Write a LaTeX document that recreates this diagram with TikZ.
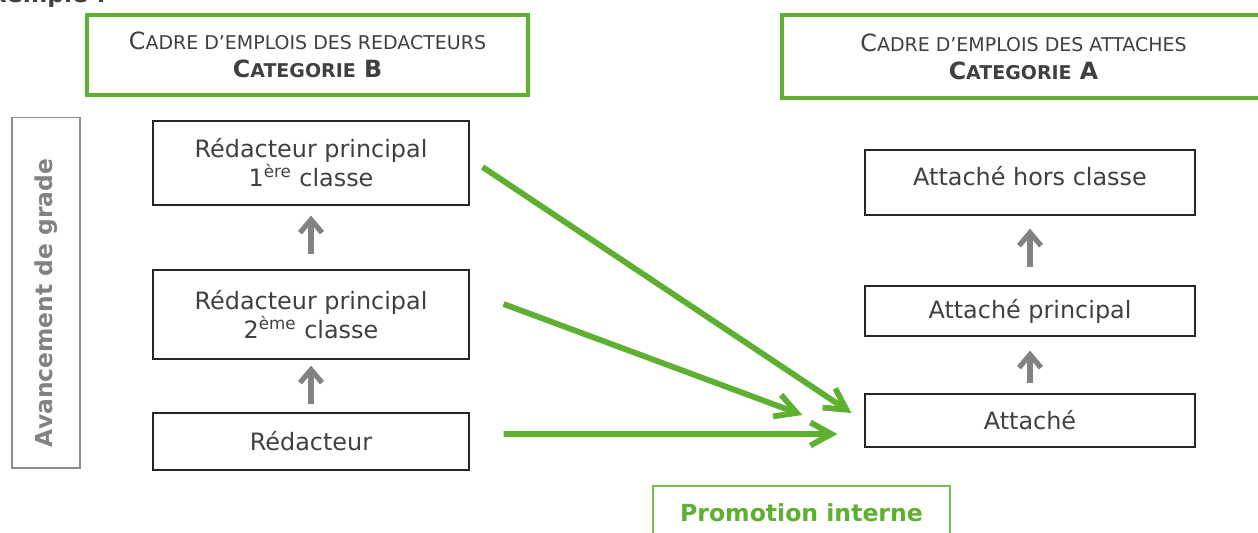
\documentclass[tikz,border=0pt]{standalone}
\usepackage{fontspec}
\setmainfont{DejaVu Sans}
\usetikzlibrary{arrows.meta}
\definecolor{vert}{RGB}{94,176,49}
\definecolor{gristexte}{RGB}{64,64,64}
\definecolor{grisfleche}{RGB}{130,130,130}
\newcommand{\petit}[1]{{\fontsize{10.8}{13}\selectfont #1}}
\begin{document}
\begin{tikzpicture}[x=0.02cm, y=-0.02cm, text=gristexte,
		font=\fontsize{13.6}{16.5}\selectfont,
		cadre_style/.style={draw=vert, line width=2.3pt, fill=white, align=center, font=\fontsize{13.5}{16}\selectfont},
		grade_style/.style={draw=black!85, line width=0.7pt, fill=white, align=center},
		avance_style/.style={-{Straight Barb[length=2.6mm,width=4.4mm]}, draw=grisfleche, line width=3pt},
		promo_style/.style={-{Straight Barb[length=4.2mm,width=4.6mm]}, draw=vert, line width=3.3pt}]
		\useasboundingbox (0,0) rectangle (1258,532);
		\node[anchor=base east, font=\bfseries\fontsize{13.4}{15}\selectfont] (ex) at (112,2) {Exemple :};
		% categorie B
		\node[cadre_style, minimum width=8.82cm, minimum height=1.6cm] (catB) at (307.5,55)
			{C\petit{ADRE D’EMPLOIS DES REDACTEURS}\\ \textbf{C\petit{ATEGORIE} B}};
		\node[cadre_style, minimum width=9.66cm, minimum height=1.66cm] (catA) at (1023.5,56.5)
			{C\petit{ADRE D’EMPLOIS DES ATTACHES}\\ \textbf{C\petit{ATEGORIE} A}};
		\node[draw=black!45, line width=0.6pt, minimum width=1.36cm, minimum height=7.02cm] (avg) at (46,292.5) {};
		\node[rotate=90, text=grisfleche, font=\bfseries\fontsize{13.3}{15}\selectfont] (avgtxt) at (46,303) {Avancement de grade};
		% redacteurs
		\node[grade_style, minimum width=6.32cm, minimum height=1.68cm] (red1) at (311,163)
			{Rédacteur principal\\ 1\textsuperscript{ère} classe};
		\node[grade_style, minimum width=6.32cm, minimum height=1.78cm] (red2) at (311,314.5)
			{Rédacteur principal\\ 2\textsuperscript{ème} classe};
		\node[grade_style, minimum width=6.32cm, minimum height=1.14cm] (red) at (311,441.5) {Rédacteur};
		% attaches
		\node[grade_style, minimum width=6.6cm, minimum height=1.3cm] (atthc) at (1030,182.5) {\raisebox{7.4pt}{Attaché hors classe}};
		\node[grade_style, minimum width=6.6cm, minimum height=1.0cm] (attp) at (1030,311) {Attaché principal};
		\node[grade_style, minimum width=6.6cm, minimum height=1.06cm] (att) at (1030,420.5) {Attaché};
		\node[draw=vert!85, line width=0.8pt, fill=white, text=vert, font=\bfseries\fontsize{13.4}{15}\selectfont,
			minimum width=5.94cm, minimum height=1.08cm] (promo) at (801.5,513) {Promotion interne};
		% avancement
		\draw[avance_style, shorten <=0.3cm, shorten >=0.2cm] (red2.north) -- (red1.south);
		\draw[avance_style, shorten <=0.16cm, shorten >=0.12cm] (red.north) -- (red2.south);
		\draw[avance_style, shorten <=0.36cm, shorten >=0.26cm] (attp.north) -- (atthc.south);
		\draw[avance_style, shorten <=0.2cm, shorten >=0.28cm] (att.north) -- (attp.south);
		% promotion interne
		\draw[promo_style] ([shift={(13,4)}]red1.east) -- ([shift={(-13,-7.5)}]att.west);
		\draw[promo_style] ([shift={(34,-10.5)}]red2.east) -- ([shift={(-62,-5.5)}]att.west);
		\draw[promo_style] ([shift={(34,-7.5)}]red.east) -- ([shift={(-27,13.5)}]att.west);
		\end{tikzpicture}
\end{document}
